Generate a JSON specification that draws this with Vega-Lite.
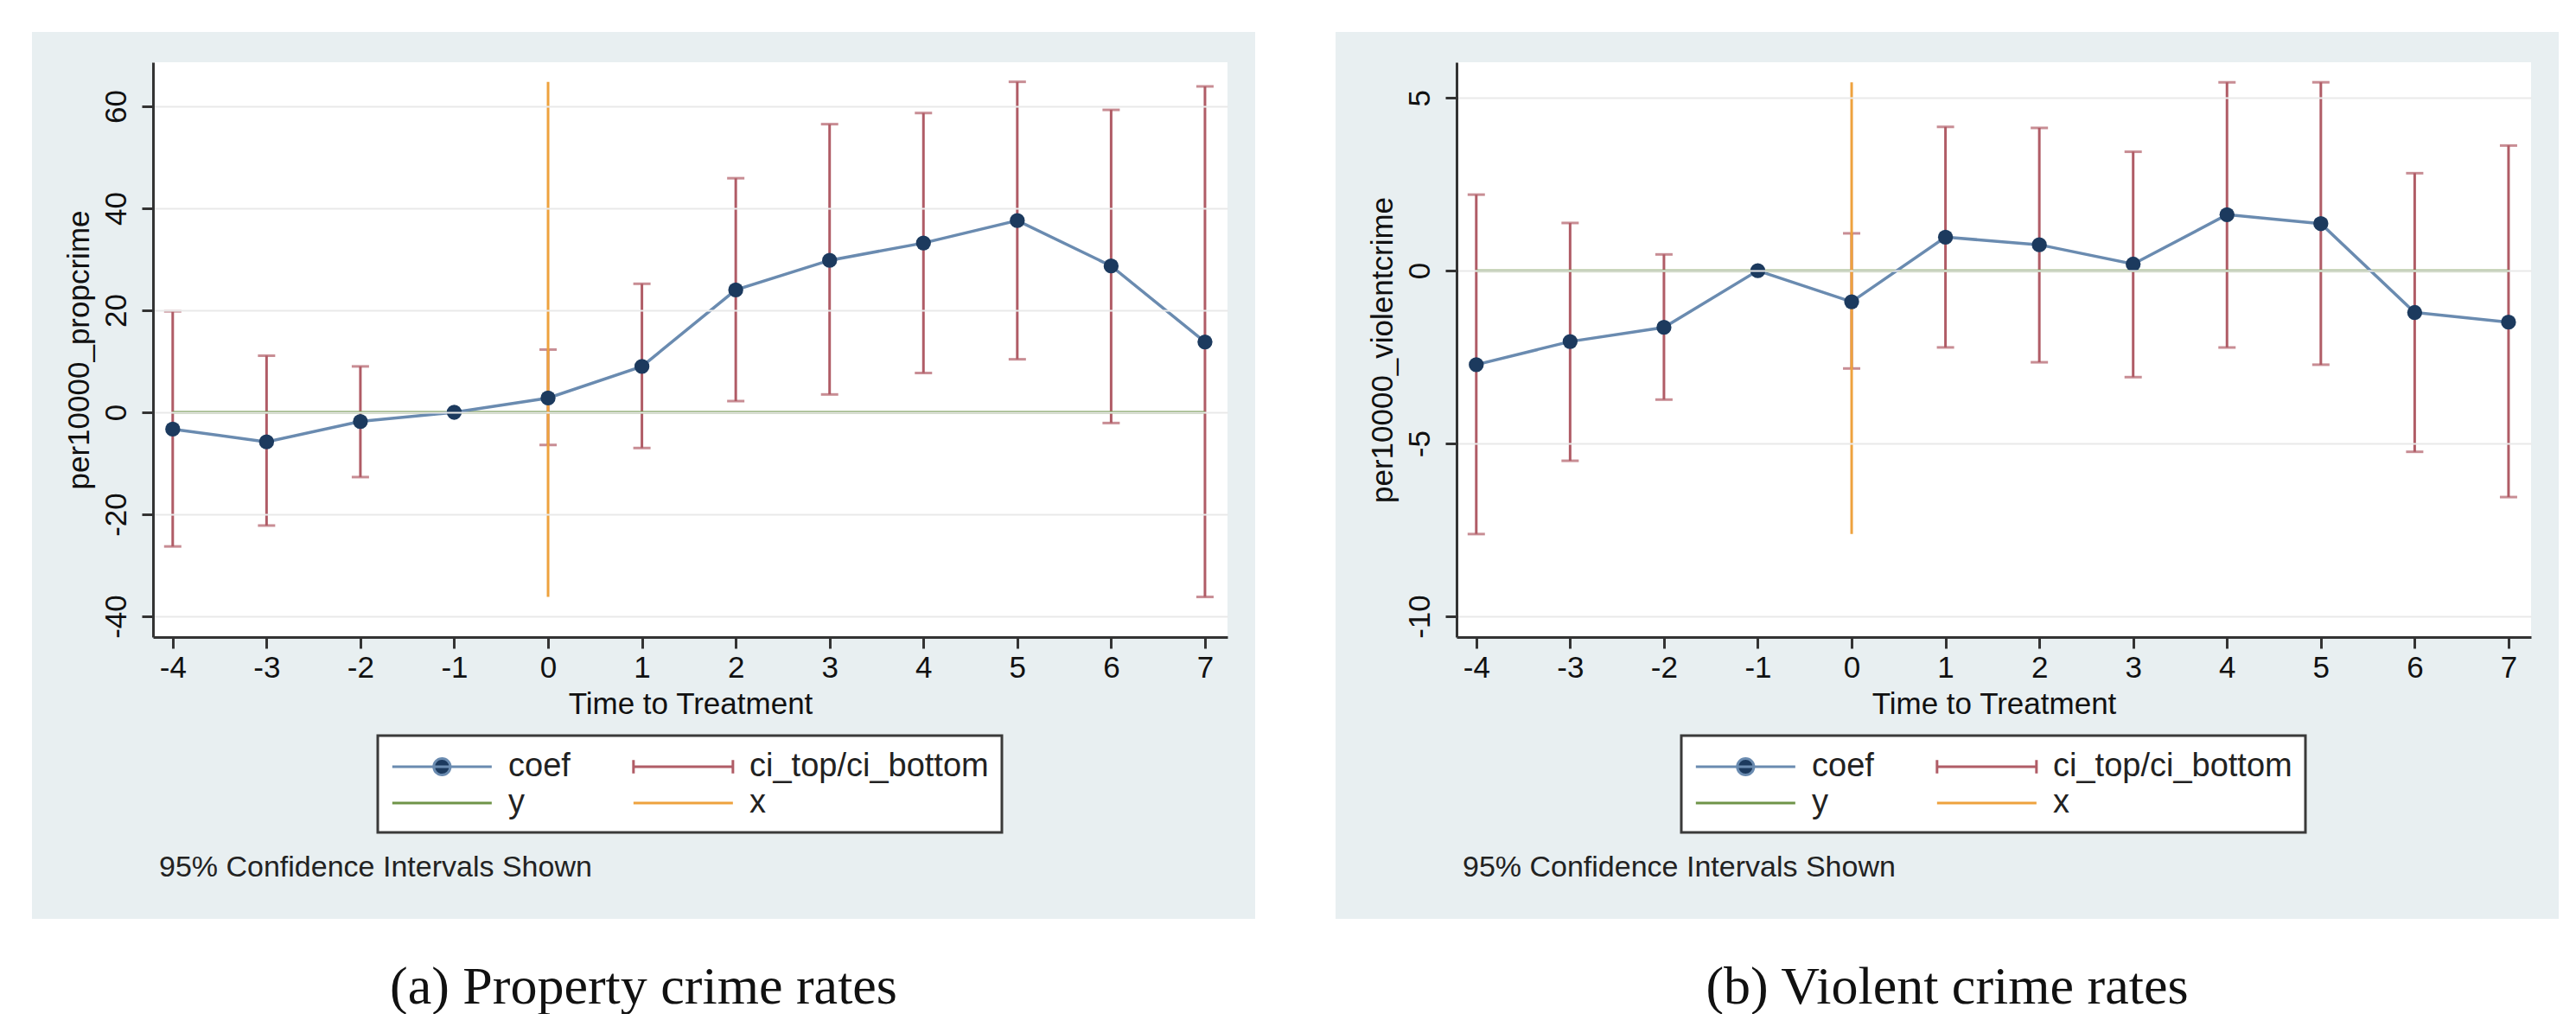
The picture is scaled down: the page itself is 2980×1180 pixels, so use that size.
{
  "$schema": "https://vega.github.io/schema/vega-lite/v6.json",
  "background": "white",
  "padding": {"left": 37, "top": 37, "right": 20, "bottom": 0},
  "config": {"view": {"stroke": null}, "font": "Liberation Sans"},
  "spacing": 93,
  "resolve": {"scale": {"color": "independent", "x": "independent", "y": "independent"}, "legend": {"color": "independent"}},
  "hconcat": [
    {
      "title": {"text": "(a) Property crime rates", "orient": "bottom", "anchor": "middle", "offset": 49, "font": "Liberation Serif", "fontSize": 62, "fontWeight": "normal", "color": "#111"},
      "vconcat": [
        {
          "width": 1415,
          "height": 1026,
          "view": {"fill": "#e8eff1", "stroke": null},
          "title": {"text": "95% Confidence Intervals Shown", "orient": "bottom", "anchor": "start", "frame": "group", "offset": -76, "dx": 147, "font": "Liberation Sans", "fontSize": 34, "fontWeight": "normal", "color": "#222"},
          "data": {"values": [
            {"t": -4, "coef": -3.3, "lo": -26.3, "hi": 19.8},
            {"t": -3, "coef": -5.8, "lo": -22.2, "hi": 11.1},
            {"t": -2, "coef": -1.8, "lo": -12.7, "hi": 9.0},
            {"t": -1, "coef": 0},
            {"t": 0, "coef": 2.8, "lo": -6.4, "hi": 12.3},
            {"t": 1, "coef": 9.0, "lo": -7.0, "hi": 25.2},
            {"t": 2, "coef": 24.0, "lo": 2.2, "hi": 45.9},
            {"t": 3, "coef": 29.8, "lo": 3.5, "hi": 56.5},
            {"t": 4, "coef": 33.2, "lo": 7.7, "hi": 58.7},
            {"t": 5, "coef": 37.6, "lo": 10.4, "hi": 64.8},
            {"t": 6, "coef": 28.7, "lo": -2.1, "hi": 59.3},
            {"t": 7, "coef": 13.8, "lo": -36.2, "hi": 63.9}
          ]},
          "layer": [
            {
              "mark": {"type": "rect", "fill": "white", "stroke": null},
              "encoding": {
                "x": {"datum": -4.21, "type": "quantitative",
                  "scale": {"domain": [-4.21, 7.24], "range": [140, 1383], "nice": false, "zero": false},
                  "axis": {"title": "Time to Treatment", "values": [-4, -3, -2, -1, 0, 1, 2, 3, 4, 5, 6, 7], "offset": -326, "grid": false, "domainColor": "#333", "domainWidth": 3, "tickColor": "#333", "tickWidth": 3, "tickSize": 13, "labelPadding": 5, "labelAngle": 0, "labelFlush": false, "labelOverlap": false, "labelExpr": "'' + datum.value", "labelFont": "Liberation Sans", "labelFontSize": 35, "labelColor": "#111", "titleFont": "Liberation Sans", "titleFontSize": 35, "titleFontWeight": "normal", "titleColor": "#111", "titlePadding": 7, "zindex": 1}},
                "x2": {"datum": 7.24},
                "y": {"datum": -44.07, "type": "quantitative",
                  "scale": {"domain": [-44.07, 68.64], "range": [700, 35], "nice": false, "zero": false},
                  "axis": {"title": "per10000_propcrime", "values": [-40, -20, 0, 20, 40, 60], "offset": -140, "grid": true, "gridColor": "#e9e9e9", "gridWidth": 2, "domainColor": "#333", "domainWidth": 3, "tickColor": "#333", "tickWidth": 3, "tickSize": 13, "labelPadding": 12, "labelAngle": -90, "labelAlign": "center", "labelBaseline": "bottom", "labelFlush": false, "labelOverlap": false, "labelExpr": "'' + datum.value", "labelFont": "Liberation Sans", "labelFontSize": 35, "labelColor": "#111", "titleFont": "Liberation Sans", "titleFontSize": 35, "titleFontWeight": "normal", "titleColor": "#111", "titlePadding": 8, "zindex": 1}},
                "y2": {"datum": 68.64}
              }
            },
            {
              "mark": {"type": "rule", "color": "#b05c66", "strokeWidth": 3},
              "encoding": {"x": {"field": "t", "type": "quantitative"}, "y": {"field": "lo", "type": "quantitative"}, "y2": {"field": "hi"}}
            },
            {
              "mark": {"type": "tick", "orient": "horizontal", "color": "#b05c66", "size": 20, "thickness": 3},
              "encoding": {"x": {"field": "t", "type": "quantitative"}, "y": {"field": "lo", "type": "quantitative"}}
            },
            {
              "mark": {"type": "tick", "orient": "horizontal", "color": "#b05c66", "size": 20, "thickness": 3},
              "encoding": {"x": {"field": "t", "type": "quantitative"}, "y": {"field": "hi", "type": "quantitative"}}
            },
            {
              "data": {"values": [{"x1": -4, "x2": 7, "y0": 0, "s": "y"}]},
              "mark": {"type": "rule", "strokeWidth": 3},
              "encoding": {
                "x": {"field": "x1", "type": "quantitative"},
                "x2": {"field": "x2"},
                "y": {"field": "y0", "type": "quantitative"},
                "color": {"field": "s", "type": "nominal",
                  "scale": {"domain": ["coef", "ci_top/ci_bottom", "y", "x"], "range": ["#6a8bb0", "#b05c66", "#6f9448", "#eea23e"]},
                  "legend": {"orient": "none", "legendX": 400, "legendY": 814, "title": null, "columns": 2, "direction": "horizontal", "fillColor": "white", "strokeColor": "#3a3a3a", "padding": 15, "rowPadding": 2, "columnPadding": 66, "symbolSize": 1470, "symbolStrokeWidth": 3, "labelFont": "Liberation Sans", "labelFontSize": 38, "labelColor": "#222", "labelOffset": 94, "labelLimit": 800,
                    "encode": {
                      "legend": {"update": {"strokeWidth": {"value": 3}}},
                      "symbols": {"update": {
                        "shape": {"signal": "datum.value === 'coef' ? 'M-1,0H5M1.5,0A0.5,0.5 0 1,0 2.5,0A0.5,0.5 0 1,0 1.5,0Z' : (datum.value === 'ci_top/ci_bottom' ? 'M-1,-0.4V0.4M-1,0H5M5,-0.4V0.4' : 'M-1,0H5')"},
                        "fill": {"signal": "datum.value === 'coef' ? '#1c3a5e' : 'transparent'"},
                        "stroke": {"scale": "color", "field": "value"},
                        "strokeWidth": {"value": 3},
                        "opacity": {"value": 1}
                      }}
                    }}}
              }
            },
            {
              "data": {"values": [{"x0": 0, "y1": -36.2, "y2": 64.8, "s": "x"}]},
              "mark": {"type": "rule", "strokeWidth": 3},
              "encoding": {
                "x": {"field": "x0", "type": "quantitative"},
                "y": {"field": "y1", "type": "quantitative"},
                "y2": {"field": "y2"},
                "color": {"field": "s", "type": "nominal"}
              }
            },
            {
              "mark": {"type": "line", "color": "#6a8bb0", "strokeWidth": 3.5},
              "encoding": {"x": {"field": "t", "type": "quantitative"}, "y": {"field": "coef", "type": "quantitative"}}
            },
            {
              "mark": {"type": "point", "filled": true, "color": "#1c3a5e", "size": 300, "opacity": 1},
              "encoding": {"x": {"field": "t", "type": "quantitative"}, "y": {"field": "coef", "type": "quantitative"}}
            }
          ]
        }
      ]
    },
    {
      "title": {"text": "(b) Violent crime rates", "orient": "bottom", "anchor": "middle", "offset": 49, "font": "Liberation Serif", "fontSize": 62, "fontWeight": "normal", "color": "#111"},
      "vconcat": [
        {
          "width": 1415,
          "height": 1026,
          "view": {"fill": "#e8eff1", "stroke": null},
          "title": {"text": "95% Confidence Intervals Shown", "orient": "bottom", "anchor": "start", "frame": "group", "offset": -76, "dx": 147, "font": "Liberation Sans", "fontSize": 34, "fontWeight": "normal", "color": "#222"},
          "data": {"values": [
            {"t": -4, "coef": -2.72, "lo": -7.62, "hi": 2.20},
            {"t": -3, "coef": -2.05, "lo": -5.50, "hi": 1.38},
            {"t": -2, "coef": -1.64, "lo": -3.73, "hi": 0.47},
            {"t": -1, "coef": 0},
            {"t": 0, "coef": -0.90, "lo": -2.83, "hi": 1.08},
            {"t": 1, "coef": 0.97, "lo": -2.22, "hi": 4.16},
            {"t": 2, "coef": 0.75, "lo": -2.65, "hi": 4.13},
            {"t": 3, "coef": 0.19, "lo": -3.08, "hi": 3.44},
            {"t": 4, "coef": 1.62, "lo": -2.22, "hi": 5.45},
            {"t": 5, "coef": 1.36, "lo": -2.72, "hi": 5.45},
            {"t": 6, "coef": -1.21, "lo": -5.24, "hi": 2.82},
            {"t": 7, "coef": -1.49, "lo": -6.55, "hi": 3.62}
          ]},
          "layer": [
            {
              "mark": {"type": "rect", "fill": "white", "stroke": null},
              "encoding": {
                "x": {"datum": -4.21, "type": "quantitative",
                  "scale": {"domain": [-4.21, 7.24], "range": [140, 1383], "nice": false, "zero": false},
                  "axis": {"title": "Time to Treatment", "values": [-4, -3, -2, -1, 0, 1, 2, 3, 4, 5, 6, 7], "offset": -326, "grid": false, "domainColor": "#333", "domainWidth": 3, "tickColor": "#333", "tickWidth": 3, "tickSize": 13, "labelPadding": 5, "labelAngle": 0, "labelFlush": false, "labelOverlap": false, "labelExpr": "'' + datum.value", "labelFont": "Liberation Sans", "labelFontSize": 35, "labelColor": "#111", "titleFont": "Liberation Sans", "titleFontSize": 35, "titleFontWeight": "normal", "titleColor": "#111", "titlePadding": 7, "zindex": 1}},
                "x2": {"datum": 7.24},
                "y": {"datum": -10.6, "type": "quantitative",
                  "scale": {"domain": [-10.6, 6.03], "range": [700, 35], "nice": false, "zero": false},
                  "axis": {"title": "per10000_violentcrime", "values": [-10, -5, 0, 5], "offset": -140, "grid": true, "gridColor": "#e9e9e9", "gridWidth": 2, "domainColor": "#333", "domainWidth": 3, "tickColor": "#333", "tickWidth": 3, "tickSize": 13, "labelPadding": 12, "labelAngle": -90, "labelAlign": "center", "labelBaseline": "bottom", "labelFlush": false, "labelOverlap": false, "labelExpr": "'' + datum.value", "labelFont": "Liberation Sans", "labelFontSize": 35, "labelColor": "#111", "titleFont": "Liberation Sans", "titleFontSize": 35, "titleFontWeight": "normal", "titleColor": "#111", "titlePadding": 8, "zindex": 1}},
                "y2": {"datum": 6.03}
              }
            },
            {
              "mark": {"type": "rule", "color": "#b05c66", "strokeWidth": 3},
              "encoding": {"x": {"field": "t", "type": "quantitative"}, "y": {"field": "lo", "type": "quantitative"}, "y2": {"field": "hi"}}
            },
            {
              "mark": {"type": "tick", "orient": "horizontal", "color": "#b05c66", "size": 20, "thickness": 3},
              "encoding": {"x": {"field": "t", "type": "quantitative"}, "y": {"field": "lo", "type": "quantitative"}}
            },
            {
              "mark": {"type": "tick", "orient": "horizontal", "color": "#b05c66", "size": 20, "thickness": 3},
              "encoding": {"x": {"field": "t", "type": "quantitative"}, "y": {"field": "hi", "type": "quantitative"}}
            },
            {
              "data": {"values": [{"x1": -4, "x2": 7, "y0": 0, "s": "y"}]},
              "mark": {"type": "rule", "strokeWidth": 3},
              "encoding": {
                "x": {"field": "x1", "type": "quantitative"},
                "x2": {"field": "x2"},
                "y": {"field": "y0", "type": "quantitative"},
                "color": {"field": "s", "type": "nominal",
                  "scale": {"domain": ["coef", "ci_top/ci_bottom", "y", "x"], "range": ["#6a8bb0", "#b05c66", "#6f9448", "#eea23e"]},
                  "legend": {"orient": "none", "legendX": 400, "legendY": 814, "title": null, "columns": 2, "direction": "horizontal", "fillColor": "white", "strokeColor": "#3a3a3a", "padding": 15, "rowPadding": 2, "columnPadding": 66, "symbolSize": 1470, "symbolStrokeWidth": 3, "labelFont": "Liberation Sans", "labelFontSize": 38, "labelColor": "#222", "labelOffset": 94, "labelLimit": 800,
                    "encode": {
                      "legend": {"update": {"strokeWidth": {"value": 3}}},
                      "symbols": {"update": {
                        "shape": {"signal": "datum.value === 'coef' ? 'M-1,0H5M1.5,0A0.5,0.5 0 1,0 2.5,0A0.5,0.5 0 1,0 1.5,0Z' : (datum.value === 'ci_top/ci_bottom' ? 'M-1,-0.4V0.4M-1,0H5M5,-0.4V0.4' : 'M-1,0H5')"},
                        "fill": {"signal": "datum.value === 'coef' ? '#1c3a5e' : 'transparent'"},
                        "stroke": {"scale": "color", "field": "value"},
                        "strokeWidth": {"value": 3},
                        "opacity": {"value": 1}
                      }}
                    }}}
              }
            },
            {
              "data": {"values": [{"x0": 0, "y1": -7.62, "y2": 5.45, "s": "x"}]},
              "mark": {"type": "rule", "strokeWidth": 3},
              "encoding": {
                "x": {"field": "x0", "type": "quantitative"},
                "y": {"field": "y1", "type": "quantitative"},
                "y2": {"field": "y2"},
                "color": {"field": "s", "type": "nominal"}
              }
            },
            {
              "mark": {"type": "line", "color": "#6a8bb0", "strokeWidth": 3.5},
              "encoding": {"x": {"field": "t", "type": "quantitative"}, "y": {"field": "coef", "type": "quantitative"}}
            },
            {
              "mark": {"type": "point", "filled": true, "color": "#1c3a5e", "size": 300, "opacity": 1},
              "encoding": {"x": {"field": "t", "type": "quantitative"}, "y": {"field": "coef", "type": "quantitative"}}
            }
          ]
        }
      ]
    }
  ]
}
